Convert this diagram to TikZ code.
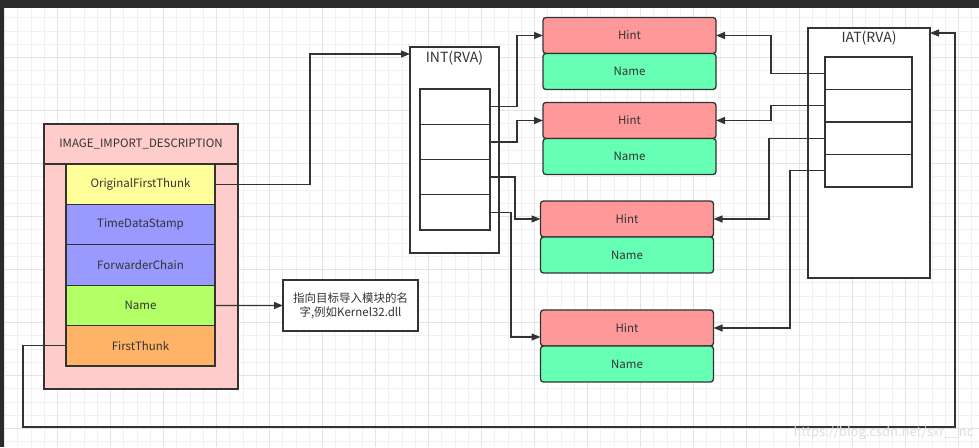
\documentclass[tikz,border=0pt]{standalone}
\usepackage{fontspec}
\setmainfont{Noto Sans CJK SC}
\usetikzlibrary{arrows.meta,calc}

\definecolor{ink}{HTML}{333333}
\definecolor{descpink}{HTML}{FFCCCC}
\definecolor{oftyellow}{HTML}{FFFF99}
\definecolor{stampblue}{HTML}{9999FF}
\definecolor{namegreen}{HTML}{B3FF66}
\definecolor{ftorange}{HTML}{FFB366}
\definecolor{hintred}{HTML}{FF9999}
\definecolor{namemint}{HTML}{66FFB3}
\definecolor{gridminor}{HTML}{F1F1F1}
\definecolor{gridmajor}{HTML}{E4E4E4}
\definecolor{topdark}{HTML}{2B2B2E}
\definecolor{wmgray}{HTML}{DEDEDE}

\begin{document}
\begin{tikzpicture}[x=1pt,y=-1pt,
    box/.style={draw=ink, line width=1.3pt, inner sep=0pt, outer sep=0pt,
        text=ink, font=\fontsize{11.5}{14}\selectfont},
    field/.style={box, minimum width=149pt, minimum height=40.4pt},
    hint/.style={box, rounded corners=3pt, fill=hintred, minimum width=173pt, minimum height=36pt},
    namebox/.style={hint, fill=namemint},
    cell/.style={box, fill=white},
    link/.style={draw=ink, line width=1.3pt, -{Triangle[length=9pt,width=7pt]}}]
\useasboundingbox (0,0) rectangle (979,447);

% background grid
\fill[white] (0,0) rectangle (979,447);
\foreach \k in {0,...,73} \draw[gridminor, line width=0.8pt] (4.5+13.25*\k,0) -- ++(0,447);
\foreach \k in {0,...,33} \draw[gridminor, line width=0.8pt] (0,4.5+13.25*\k) -- ++(979,0);
\foreach \k in {0,4,...,72} \draw[gridmajor, line width=0.8pt] (4.5+13.25*\k,0) -- ++(0,447);
\foreach \k in {0,4,...,32} \draw[gridmajor, line width=0.8pt] (0,4.5+13.25*\k) -- ++(979,0);
\fill[topdark] (0,0) rectangle (979,8);
\fill[topdark] (0,0) rectangle (4,447);

% IMAGE_IMPORT_DESCRIPTION
\node[box, fill=descpink, minimum width=194pt, minimum height=265pt] (desc) at (141,256.5) {};
\node[box, fill=descpink, minimum width=194pt, minimum height=40pt] (desctitle) at (141,144) {IMAGE\_IMPORT\_DESCRIPTION};
\node[field, fill=oftyellow] (oft) at (140.5,184.2) {OriginalFirstThunk};
\node[field, fill=stampblue] (stamp) at (140.5,224.6) {TimeDataStamp};
\node[field, fill=stampblue] (chain) at (140.5,265) {ForwarderChain};
\node[field, fill=namegreen] (namefield) at (140.5,305.4) {Name};
\node[field, fill=ftorange] (ft) at (140.5,345.8) {FirstThunk};

\node[box, fill=white, minimum width=135pt, minimum height=51pt, align=center] (note) at (350.5,305.5) {指向目标导入模块的名\\字,例如Kernel32.dll};

% INT
\node[box, fill=white, minimum width=89pt, minimum height=206pt] (int) at (454.5,150) {};
\node[text=ink, font=\fontsize{14}{16}\selectfont] (inttitle) at (454.5,58) {INT(RVA)};
\foreach \i/\y in {1/106.6,2/141.9,3/177.1,4/212.4}
    \node[cell, minimum width=70pt, minimum height=35.25pt] (int\i) at (455,\y) {};

% IAT
\node[box, fill=white, minimum width=122pt, minimum height=250pt] (iat) at (869,153) {};
\node[text=ink, font=\fontsize{14}{16}\selectfont] (iattitle) at (869,38) {IAT(RVA)};
\foreach \i/\y in {1/73.25,2/105.75,3/138.25,4/170.75}
    \node[cell, minimum width=87pt, minimum height=32.5pt] (iat\i) at (868.5,\y) {};

% Hint / Name
\foreach \i/\x/\y in {1/629.5/35.5,2/629.5/120.5,3/627/219,4/627/328} {
    \node[hint] (hint\i) at (\x,\y) {Hint};
    \node[namebox] (name\i) at (\x,\y+36) {Name};
}

% connectors
\draw[link] (oft.east) -- ++(95,0) |- ($(int.north west)+(0,7)$);
\draw[link] (int1.east) -- ++(27,0) |- (hint1.west);
\draw[link] (int2.east) -- ++(27,0) |- (hint2.west);
\draw[link] (int3.east) -- ++(25,0) |- (hint3.west);
\draw[link] (int4.east) -- ++(21,0) |- ($(hint4.west)+(0,9)$);
\draw[link] (iat1.west) -- ++(-54,0) |- (hint1.east);
\draw[link] (iat2.west) -- ++(-54,0) |- (hint2.east);
\draw[link] (iat3.west) -- ++(-56,0) |- (hint3.east);
\draw[link] (iat4.west) -- ++(-35,0) |- (hint4.east);
\draw[link] (namefield.east) -- (note.west);
\coordinate (back) at (955,427);
\draw[link] (ft.west) -- ++(-43,0) |- (back) |- ($(iat.north east)+(0,5)$);

\node[anchor=east, text=wmgray, font=\fontsize{13}{15}\selectfont] (mark) at (977,433) {https://blog.csdn.net/sxr\_\_nc};
\end{tikzpicture}
\end{document}
